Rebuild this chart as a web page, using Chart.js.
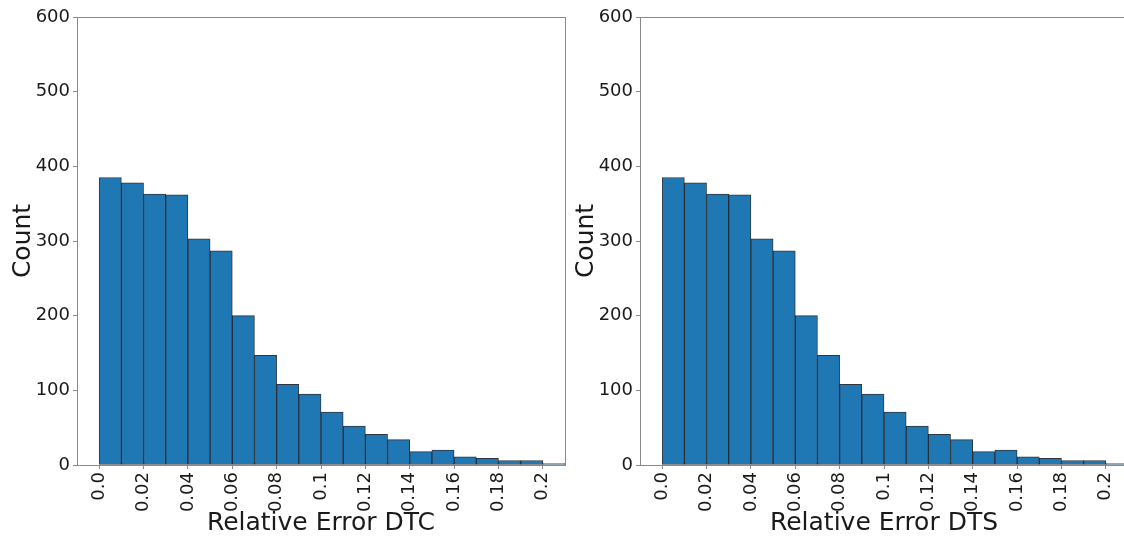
<!DOCTYPE html>
<html>
<head>
<meta charset="utf-8">
<script src="https://cdn.jsdelivr.net/npm/chart.js@4/dist/chart.umd.min.js"></script>
<style>
  html, body { margin: 0; padding: 0; background: #fff; width: 1124px; height: 539px; overflow: hidden; position: relative; }
  .panel { position: absolute; top: 0; width: 580px; height: 539px; }
</style>
</head>
<body>
<div class="panel" style="left:0px"><canvas id="c1"></canvas></div>
<div class="panel" style="left:563px"><canvas id="c2"></canvas></div>
<script>
// Histogram bins (left edges, width 0.01)
const binStarts = [0.00, 0.01, 0.02, 0.03, 0.04, 0.05, 0.06, 0.07, 0.08, 0.09, 0.10,
                   0.11, 0.12, 0.13, 0.14, 0.15, 0.16, 0.17, 0.18, 0.19, 0.20];
const binWidth = 0.01;
const countsDTC = [385, 378, 363, 362, 303, 287, 200, 147, 108, 95, 71,
                   52, 41, 34, 18, 20, 11, 9, 6, 6, 2];
const countsDTS = [385, 378, 363, 362, 303, 287, 200, 147, 108, 95, 71,
                   52, 41, 34, 18, 20, 11, 9, 6, 6, 2];
const xTickValues = [0.00, 0.02, 0.04, 0.06, 0.08, 0.10, 0.12, 0.14, 0.16, 0.18, 0.20];
const xTickLabels = ['0.0', '0.02', '0.04', '0.06', '0.08', '0.1', '0.12', '0.14', '0.16', '0.18', '0.2'];
const yTickValues = [0, 100, 200, 300, 400, 500, 600];
const titles = ['Relative Error DTC', 'Relative Error DTS'];

const FONT = "'DejaVu Sans', sans-serif";
const TEXT = '#1a1a1a';
const SPINE = '#8a8a8a';

const framePlugin = {
  id: 'frame',
  afterDraw(chart) {
    const {ctx, chartArea: a} = chart;
    ctx.save();
    ctx.strokeStyle = SPINE;
    ctx.lineWidth = 1;
    ctx.strokeRect(Math.round(a.left) + 0.5, Math.round(a.top) + 0.5,
                   Math.round(a.right - a.left), Math.round(a.bottom - a.top));
    ctx.restore();
  }
};

function makeChart(id, counts, title) {
  const data = binStarts.map((s, i) => ({x: s + binWidth / 2, y: counts[i]}));
  return new Chart(document.getElementById(id), {
    type: 'bar',
    data: {
      datasets: [{
        data: data,
        backgroundColor: '#1f77b4',
        borderColor: 'rgba(10,20,30,0.85)',
        borderWidth: 1,
        borderSkipped: false,
        barPercentage: 1.0,
        categoryPercentage: 1.0
      }]
    },
    options: {
      responsive: false,
      animation: false,
      devicePixelRatio: 1,
      layout: { padding: { top: 17, right: 15, left: 0, bottom: 0 } },
      plugins: { legend: { display: false }, tooltip: { enabled: false } },
      scales: {
        x: {
          type: 'linear',
          min: -0.01,
          max: 0.21,
          offset: false,
          afterFit: (s) => { s.height = 74; },
          afterBuildTicks: (s) => { s.ticks = xTickValues.map(v => ({value: v})); },
          grid: { display: true, drawOnChartArea: false, drawTicks: true, tickLength: 4, color: SPINE, offset: false },
          border: { display: true, color: SPINE, width: 1 },
          ticks: {
            autoSkip: false,
            maxRotation: 90,
            minRotation: 90,
            padding: 3,
            color: TEXT,
            font: { family: FONT, size: 18 },
            callback: (v, i) => xTickLabels[i]
          },
          title: {
            display: true,
            text: title,
            color: TEXT,
            font: { family: FONT, size: 25 },
            padding: { top: 0, bottom: 1 }
          }
        },
        y: {
          min: 0,
          max: 600,
          afterFit: (s) => { s.width = 77; },
          afterBuildTicks: (s) => { s.ticks = yTickValues.map(v => ({value: v})); },
          grid: { display: true, drawOnChartArea: false, drawTicks: true, tickLength: 4, color: SPINE },
          border: { display: true, color: SPINE, width: 1 },
          ticks: {
            padding: 3,
            color: TEXT,
            font: { family: FONT, size: 18 }
          },
          title: {
            display: true,
            text: 'Count',
            color: TEXT,
            font: { family: FONT, size: 25 },
            padding: { top: 8, bottom: 0 }
          }
        }
      }
    },
    plugins: [framePlugin]
  });
}

document.getElementById('c1').width = 580;
document.getElementById('c1').height = 539;
document.getElementById('c2').width = 580;
document.getElementById('c2').height = 539;
makeChart('c1', countsDTC, titles[0]);
makeChart('c2', countsDTS, titles[1]);
</script>
</body>
</html>
